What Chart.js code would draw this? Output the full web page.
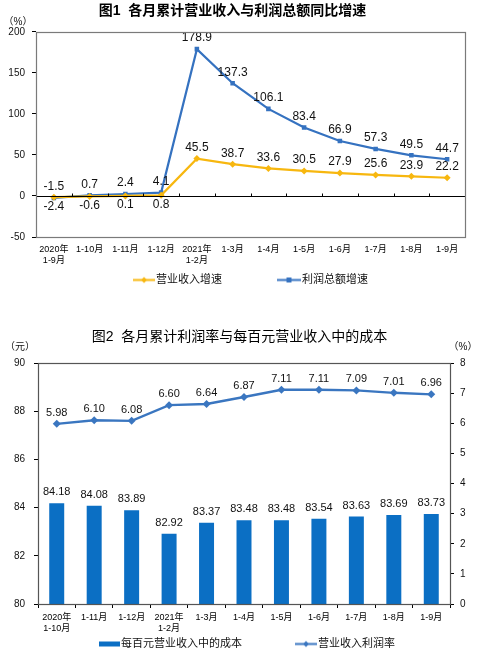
<!DOCTYPE html>
<html>
<head>
<meta charset="utf-8">
<script src="https://cdn.jsdelivr.net/npm/chart.js@4.4.1/dist/chart.umd.min.js"></script>
<style>
html,body{margin:0;padding:0;background:#fff;}
body{width:479px;height:656px;position:relative;overflow:hidden;}
#w1{position:absolute;left:0;top:0;width:479px;height:300px;}
#w2{position:absolute;left:0;top:320px;width:479px;height:336px;}
canvas{display:block;}
</style>
</head>
<body>
<div id="w1"><canvas id="c1"></canvas></div>
<div id="w2"><canvas id="c2"></canvas></div>
<script>
// ---------- Data: chart 1 ----------
const chart1Title = '图1  各月累计营业收入与利润总额同比增速';
const chart1Categories = [['2020年','1-9月'],'1-10月','1-11月','1-12月',['2021年','1-2月'],'1-3月','1-4月','1-5月','1-6月','1-7月','1-8月','1-9月'];
const revenueGrowthName = '营业收入增速';
const revenueGrowth = [-1.5, -0.6, 0.1, 0.8, 45.5, 38.7, 33.6, 30.5, 27.9, 25.6, 23.9, 22.2];
const profitGrowthName = '利润总额增速';
const profitGrowth = [-2.4, 0.7, 2.4, 4.1, 178.9, 137.3, 106.1, 83.4, 66.9, 57.3, 49.5, 44.7];
const chart1Unit = '（%）';
const chart1YMin = -50, chart1YMax = 200, chart1YStep = 50;

// ---------- Data: chart 2 ----------
const chart2Title = '图2  各月累计利润率与每百元营业收入中的成本';
const chart2Categories = [['2020年','1-10月'],'1-11月','1-12月',['2021年','1-2月'],'1-3月','1-4月','1-5月','1-6月','1-7月','1-8月','1-9月'];
const costName = '每百元营业收入中的成本';
const costPer100 = [84.18, 84.08, 83.89, 82.92, 83.37, 83.48, 83.48, 83.54, 83.63, 83.69, 83.73];
const marginName = '营业收入利润率';
const profitMargin = [5.98, 6.10, 6.08, 6.60, 6.64, 6.87, 7.11, 7.11, 7.09, 7.01, 6.96];
const chart2LeftUnit = '（元）';
const chart2RightUnit = '（%）';
const costMin = 80, costMax = 90, costStep = 2;
const marginMin = 0, marginMax = 8, marginStep = 1;

// ---------- Styles ----------
const FONT = "'Liberation Sans', 'Noto Sans CJK SC', sans-serif";
const BLUE = '#3572c0';
const YELLOW = '#f7b70f';
const BAR = '#0b6fc4';
const LINE2 = '#3a76c0';

// Legend swatch images
function swatch(color, kind, w, h, r) {
  const c = document.createElement('canvas');
  c.width = w; c.height = h;
  const x = c.getContext('2d');
  const cy = h / 2;
  if (kind === 'bar') {
    x.fillStyle = color;
    x.fillRect(0, cy - 2.5, w, 5);
  } else {
    x.strokeStyle = color; x.lineWidth = 2;
    x.beginPath(); x.moveTo(0, cy); x.lineTo(w, cy); x.stroke();
    x.fillStyle = color;
    x.beginPath();
    if (kind === 'rect') { x.rect(w/2 - r, cy - r, 2*r, 2*r); }
    else { x.moveTo(w/2, cy - r); x.lineTo(w/2 + r, cy); x.lineTo(w/2, cy + r); x.lineTo(w/2 - r, cy); x.closePath(); }
    x.fill();
  }
  return c;
}

// Plugin: frame, unit labels, zero line, value labels, custom legend
const decorPlugin = {
  id: 'decor',
  afterDatasetsDraw(chart, args, opts) {
    const ctx = chart.ctx;
    const a = chart.chartArea;
    ctx.save();
    if (opts.zeroLine) {
      const y0 = Math.round(chart.scales.y.getPixelForValue(0)) + 0.5;
      ctx.strokeStyle = '#000'; ctx.lineWidth = 1;
      ctx.beginPath(); ctx.moveTo(a.left, y0); ctx.lineTo(a.right, y0); ctx.stroke();
      const n = chart.data.labels.length;
      const step = (a.right - a.left) / n;
      ctx.beginPath();
      for (let i = 1; i < n; i++) {
        const xx = Math.round(a.left + step * i) + 0.5;
        ctx.moveTo(xx, y0 - 3); ctx.lineTo(xx, y0);
      }
      ctx.stroke();
    }
    const dsCount = chart.data.datasets.length;
    chart.data.datasets.forEach((ds, di) => {
      const meta = chart.getDatasetMeta(di);
      const cfg = ds.valueLabel;
      if (!cfg) return;
      ctx.font = cfg.font;
      ctx.fillStyle = '#111';
      ctx.textAlign = 'center';
      ctx.textBaseline = 'middle';
      meta.data.forEach((el, i) => {
        const v = ds.data[i];
        let below = false;
        if (cfg.compare) {
          for (let dj = 0; dj < dsCount; dj++) {
            if (dj === di) continue;
            const o = chart.data.datasets[dj].data[i];
            if (o > v && o - v < 10) below = true;
          }
        }
        const y = below ? el.y + cfg.below : el.y - cfg.above;
        ctx.fillText(v.toFixed(cfg.digits), el.x, y);
      });
    });
    ctx.restore();
  },
  afterDraw(chart, args, opts) {
    const ctx = chart.ctx;
    const a = chart.chartArea;
    ctx.save();
    ctx.strokeStyle = opts.frameColor; ctx.lineWidth = 1.2;
    ctx.strokeRect(Math.round(a.left) + 0.5, Math.round(a.top) + 0.5, Math.round(a.right - a.left), Math.round(a.bottom - a.top));
    ctx.fillStyle = '#111';
    ctx.font = '10px ' + FONT;
    ctx.textBaseline = 'middle';
    (opts.units || []).forEach(u => {
      ctx.textAlign = 'center';
      ctx.fillText(u.text, u.x, u.y);
    });
    const L = opts.legend;
    if (L) {
      ctx.font = L.font;
      let items = chart.data.datasets.map(ds => ({ text: ds.label, img: ds.legendImg }));
      if (L.reverse) items = items.reverse();
      const widths = items.map(it => it.img.width + L.textGap + ctx.measureText(it.text).width);
      const total = widths.reduce((s, w) => s + w, 0) + L.gap * (items.length - 1);
      let x = (a.left + a.right) / 2 - total / 2 + (L.shift || 0);
      ctx.textAlign = 'left';
      ctx.textBaseline = 'middle';
      items.forEach((it, i) => {
        ctx.drawImage(it.img, x, L.y - it.img.height / 2);
        ctx.fillStyle = '#111';
        ctx.fillText(it.text, x + it.img.width + L.textGap, L.y);
        x += widths[i] + L.gap;
      });
    }
    ctx.restore();
  }
};

Chart.defaults.font.family = FONT;
Chart.defaults.color = '#111';

// ---------- Chart 1 ----------
new Chart(document.getElementById('c1'), {
  type: 'line',
  data: {
    labels: chart1Categories,
    datasets: [
      {
        label: revenueGrowthName, data: revenueGrowth,
        borderColor: YELLOW, backgroundColor: YELLOW, borderWidth: 2.2,
        pointStyle: 'rectRot', pointRadius: 3.5, pointBorderWidth: 0, tension: 0,
        valueLabel: { font: '12px ' + FONT, digits: 1, above: 11, below: 9, compare: true },
        legendImg: swatch(YELLOW, 'diamond', 22, 9, 3)
      },
      {
        label: profitGrowthName, data: profitGrowth,
        borderColor: BLUE, backgroundColor: BLUE, borderWidth: 2.2,
        pointStyle: 'rect', pointRadius: 3.2, pointBorderWidth: 0, tension: 0,
        valueLabel: { font: '12px ' + FONT, digits: 1, above: 11, below: 9, compare: true },
        legendImg: swatch(BLUE, 'rect', 24, 9, 2.5)
      }
    ]
  },
  options: {
    responsive: true, maintainAspectRatio: false, animation: false,
    devicePixelRatio: 1,
    layout: { padding: { left: 0, right: 14, top: 0, bottom: 33 } },
    plugins: {
      legend: { display: false },
      tooltip: { enabled: false },
      title: {
        display: true, text: chart1Title, color: '#000',
        font: { size: 14, weight: 'bold', family: FONT },
        padding: { top: 3, bottom: 12 }
      },
      decor: {
        frameColor: '#7a7a7a', zeroLine: true,
        units: [{ text: chart1Unit, x: 18, y: 22 }],
        legend: { y: 280, gap: 55, textGap: 1, font: '11px ' + FONT, shift: 0 }
      }
    },
    scales: {
      x: {
        offset: true,
        grid: { display: false, drawTicks: false },
        border: { display: false },
        ticks: { font: { size: 9 }, color: '#000', padding: 7, maxRotation: 0, autoSkip: false },
        afterFit(s) { s.height = 30; }
      },
      y: {
        min: chart1YMin, max: chart1YMax,
        grid: { drawOnChartArea: false, drawTicks: true, tickLength: 4, color: '#000' },
        border: { display: false },
        ticks: { stepSize: chart1YStep, font: { size: 10 }, color: '#111', padding: 7 },
        afterFit(s) { s.width = 36; }
      }
    }
  },
  plugins: [decorPlugin]
});

// ---------- Chart 2 ----------
new Chart(document.getElementById('c2'), {
  data: {
    labels: chart2Categories,
    datasets: [
      {
        type: 'line', label: marginName, data: profitMargin, yAxisID: 'y1', order: 0,
        borderColor: LINE2, backgroundColor: LINE2, borderWidth: 2.4,
        pointStyle: 'rectRot', pointRadius: 4, pointBorderWidth: 0, tension: 0,
        valueLabel: { font: '11px ' + FONT, digits: 2, above: 11, below: 9, compare: false },
        legendImg: swatch(LINE2, 'diamond', 22, 9, 3)
      },
      {
        type: 'bar', label: costName, data: costPer100, yAxisID: 'y', order: 1,
        backgroundColor: BAR, borderWidth: 0,
        barPercentage: 0.4, categoryPercentage: 1,
        valueLabel: { font: '11px ' + FONT, digits: 2, above: 11, below: 9, compare: false },
        legendImg: swatch(BAR, 'bar', 21, 9, 0)
      }
    ]
  },
  options: {
    responsive: true, maintainAspectRatio: false, animation: false,
    devicePixelRatio: 1,
    layout: { padding: { left: 0, right: 0, top: 0, bottom: 22 } },
    plugins: {
      legend: { display: false },
      tooltip: { enabled: false },
      title: {
        display: true, text: chart2Title, color: '#000',
        font: { size: 14, weight: 'normal', family: FONT },
        padding: { top: 8.6, bottom: 17.6 }
      },
      decor: {
        frameColor: '#555',
        units: [{ text: chart2LeftUnit, x: 20, y: 27 }, { text: chart2RightUnit, x: 463, y: 27 }],
        legend: { y: 324, gap: 53, textGap: 1, font: '11px ' + FONT, shift: 3, reverse: true }
      }
    },
    scales: {
      x: {
        offset: true,
        grid: { display: true, drawOnChartArea: false, drawTicks: true, tickLength: 4, color: '#000', offset: true },
        border: { display: false },
        ticks: { font: { size: 9 }, color: '#000', padding: 4, maxRotation: 0, autoSkip: false },
        afterFit(s) { s.height = 30; }
      },
      y: {
        position: 'left', min: costMin, max: costMax,
        grid: { drawOnChartArea: false, drawTicks: true, tickLength: 4, color: '#000' },
        border: { display: false },
        ticks: { stepSize: costStep, font: { size: 10 }, color: '#111', padding: 9 },
        afterFit(s) { s.width = 38; }
      },
      y1: {
        position: 'right', min: marginMin, max: marginMax,
        grid: { drawOnChartArea: false, drawTicks: true, tickLength: 4, color: '#000' },
        border: { display: false },
        ticks: { stepSize: marginStep, font: { size: 10 }, color: '#111', padding: 6 },
        afterFit(s) { s.width = 29; }
      }
    }
  },
  plugins: [decorPlugin]
});
</script>
</body>
</html>
